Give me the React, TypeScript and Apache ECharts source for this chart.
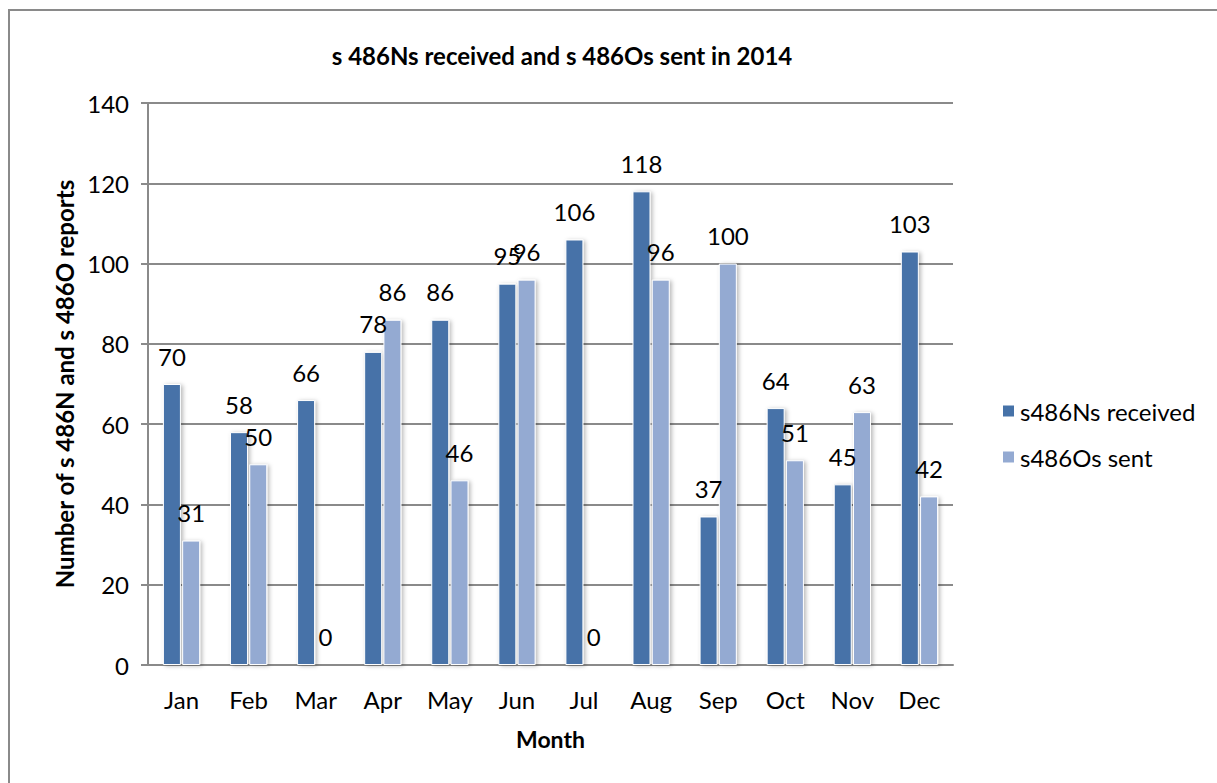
import React, { useEffect, useRef } from "react";
import * as echarts from "echarts";

const months = ["Jan", "Feb", "Mar", "Apr", "May", "Jun", "Jul", "Aug", "Sep", "Oct", "Nov", "Dec"];
const received = [70, 58, 66, 78, 86, 95, 106, 118, 37, 64, 45, 103];
const sent = [31, 50, 0, 86, 46, 96, 0, 96, 100, 51, 63, 42];
const yTicks = { min: 0, max: 140, interval: 20 };

const FONT = "Lato";

export default function App() {
  const ref = useRef<HTMLDivElement>(null);
  useEffect(() => {
    if (!ref.current) return;
    const chart = echarts.init(ref.current, null, { renderer: "svg" });
    const barStyle = (color: string) => ({
      color,
      borderColor: "#ffffff",
      borderWidth: 1,
      shadowColor: "rgba(0,0,0,0.28)",
      shadowBlur: 4,
      shadowOffsetX: 2,
      shadowOffsetY: 1,
    });
    const label = {
      show: true,
      position: "top",
      distance: 16,
      color: "#000",
      fontFamily: FONT,
      fontSize: 24,
    };
    chart.setOption({
      animation: false,
      backgroundColor: "#ffffff",
      title: {
        text: "s 486Ns received and s 486Os sent in 2014",
        left: 557,
        top: 38,
        textAlign: "center",
        textStyle: { fontFamily: FONT, fontWeight: "bold", fontSize: 24, color: "#000" },
      },
      graphic: [
        {
          type: "rect",
          shape: { x: 9, y: 10, width: 1400, height: 1000 },
          style: { fill: "none", stroke: "#8a8a8a", lineWidth: 2 },
          silent: true,
        },
      ],
      legend: {
        orient: "vertical",
        left: 996,
        top: 394,
        itemWidth: 13,
        itemHeight: 13,
        itemGap: 22,
        icon: "rect",
        textStyle: { fontFamily: FONT, fontSize: 24, color: "#000", padding: [0, 0, 0, 0] },
        data: ["s486Ns received", "s486Os sent"],
      },
      grid: { left: 148, right: 264, top: 103, bottom: 118 },
      xAxis: {
        type: "category",
        data: months,
        name: "Month",
        nameLocation: "middle",
        nameGap: 62,
        nameTextStyle: { fontFamily: FONT, fontWeight: "bold", fontSize: 23, color: "#000" },
        axisLine: { lineStyle: { color: "#8a8a8a", width: 2 } },
        axisTick: { show: false },
        axisLabel: { fontFamily: FONT, fontSize: 24, color: "#000", margin: 22 },
      },
      yAxis: {
        type: "value",
        min: yTicks.min,
        max: yTicks.max,
        interval: yTicks.interval,
        name: "Number of s 486N and s 486O reports",
        nameLocation: "middle",
        nameGap: 67,
        nameTextStyle: { fontFamily: FONT, fontWeight: "bold", fontSize: 24, color: "#000" },
        axisLine: { show: true, lineStyle: { color: "#8a8a8a", width: 2 } },
        axisTick: { show: true, length: 7, lineStyle: { color: "#8a8a8a", width: 2 } },
        splitLine: { lineStyle: { color: "#8a8a8a", width: 2 } },
        axisLabel: { fontFamily: FONT, fontSize: 24, color: "#000", margin: 19 },
      },
      series: [
        {
          name: "s486Ns received",
          type: "bar",
          data: received,
          barWidth: 18,
          barGap: "7%",
          itemStyle: barStyle("#4672a8"),
          label,
        },
        {
          name: "s486Os sent",
          type: "bar",
          data: sent,
          barWidth: 18,
          itemStyle: barStyle("#94aad2"),
          label,
        },
      ],
    });
    return () => chart.dispose();
  }, []);
  return (
    <div
      ref={ref}
      style={{ position: "absolute", left: 0, top: 0, width: 1217, height: 783 }}
    />
  );
}
